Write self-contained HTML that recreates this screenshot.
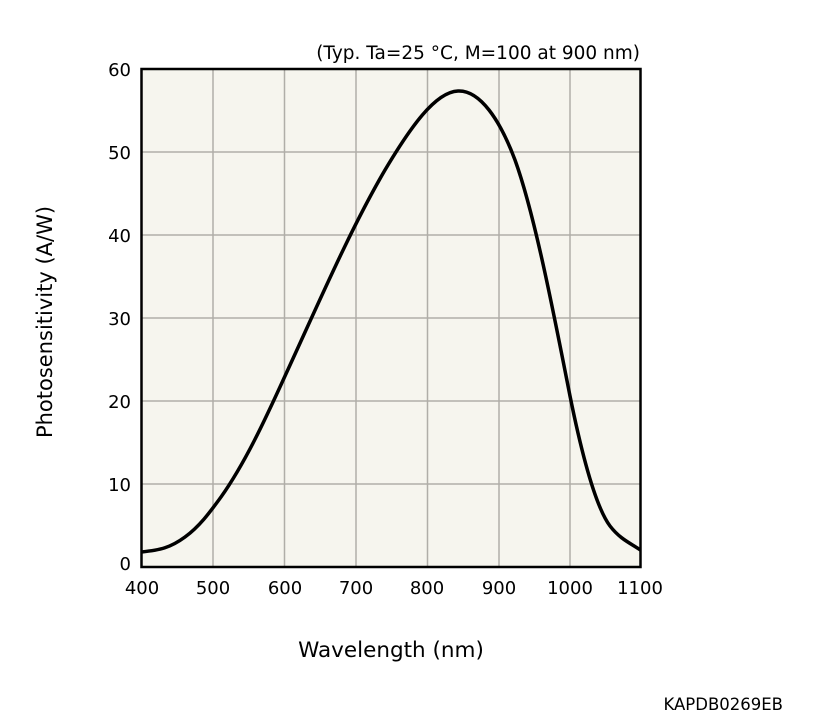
<!DOCTYPE html>
<html><head><style>body{margin:0;background:#fff;}svg{display:block;font-family:"DejaVu Sans",sans-serif;}</style></head><body>
<svg width="828" height="723" viewBox="0 0 828 723">
<rect x="141.5" y="69" width="499" height="498" fill="#f6f5ee"/>
<g stroke="#b0aea8" stroke-width="1.5">
<line x1="213" y1="69" x2="213" y2="567"/><line x1="284.5" y1="69" x2="284.5" y2="567"/><line x1="356" y1="69" x2="356" y2="567"/><line x1="427.5" y1="69" x2="427.5" y2="567"/><line x1="499" y1="69" x2="499" y2="567"/><line x1="570" y1="69" x2="570" y2="567"/>
<line x1="141.5" y1="152" x2="640.5" y2="152"/><line x1="141.5" y1="235" x2="640.5" y2="235"/><line x1="141.5" y1="318" x2="640.5" y2="318"/><line x1="141.5" y1="401" x2="640.5" y2="401"/><line x1="141.5" y1="484" x2="640.5" y2="484"/>
</g>
<rect x="141.5" y="69" width="499" height="498" fill="none" stroke="#000" stroke-width="2.5"/>
<path d="M141.5,552 C160,550 170,548 185,537 C200,526 210,512 221,497 C245,463 265,420 285,376 C320,300 350,230 385,170 C410,128 435,92 458,91 C480,90 500,120 515,160 C535,215 555,320 570,396 C585,470 598,510 610,526 C620,539 630,543 640.5,550" fill="none" stroke="#000" stroke-width="3.5"/>
<g font-size="18" fill="#000" text-anchor="end">
<text x="131" y="76">60</text><text x="131" y="159">50</text><text x="131" y="242">40</text><text x="131" y="325">30</text><text x="131" y="408">20</text><text x="131" y="491">10</text><text x="131" y="570">0</text>
</g>
<g font-size="18" fill="#000" text-anchor="middle">
<text x="142" y="594">400</text><text x="213" y="594">500</text><text x="285" y="594">600</text><text x="356" y="594">700</text><text x="427" y="594">800</text><text x="499" y="594">900</text><text x="570" y="594">1000</text><text x="640" y="594">1100</text>
<text x="391" y="657" font-size="21.5">Wavelength (nm)</text>
<text transform="translate(52,322) rotate(-90)" font-size="21">Photosensitivity (A/W)</text>
</g>
<text x="640" y="59" font-size="18.5" text-anchor="end">(Typ. Ta=25 °C, M=100 at 900 nm)</text>
<text x="783" y="710" font-size="16.5" text-anchor="end">KAPDB0269EB</text>
</svg>
</body></html>
